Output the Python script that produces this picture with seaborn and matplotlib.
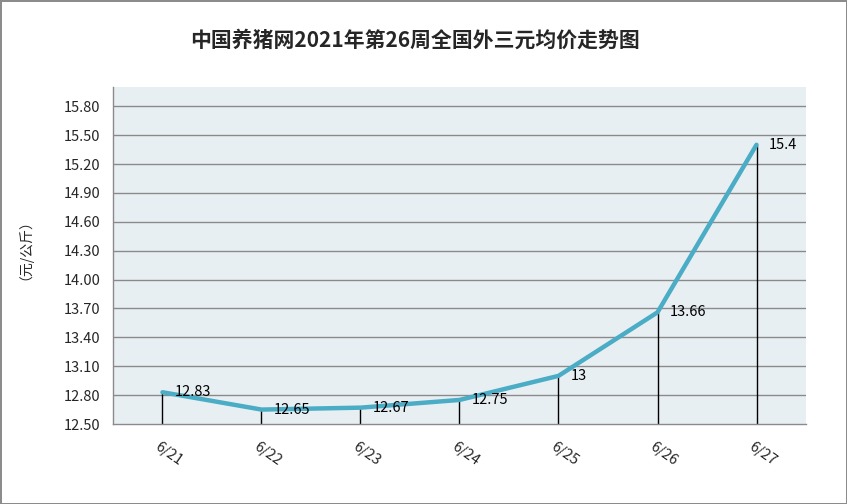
import numpy as np
import pandas as pd
import matplotlib
matplotlib.use("Agg")
import matplotlib.pyplot as plt
import seaborn as sns

# Data
dates = ["6/21", "6/22", "6/23", "6/24", "6/25", "6/26", "6/27"]
prices = [12.83, 12.65, 12.67, 12.75, 13.0, 13.66, 15.4]
price_labels = ["12.83", "12.65", "12.67", "12.75", "13", "13.66", "15.4"]
yticks = [12.5, 12.8, 13.1, 13.4, 13.7, 14.0, 14.3, 14.6, 14.9, 15.2, 15.5, 15.8]

sns.set_style("white")
plt.rcParams['font.family'] = ['Noto Sans CJK SC', 'DejaVu Sans']

df = pd.DataFrame({"date": dates, "price": prices})
df["pos"] = np.arange(len(df))

fig = plt.figure(figsize=(8.47, 5.04), dpi=100)
fig.patch.set_edgecolor("#8c8c8c")
fig.patch.set_linewidth(2)
ax = fig.add_axes([0.1334, 0.1587, 0.8182, 0.6687])
ax.set_facecolor("#e8eff3")

# grid lines
for y in yticks[1:]:
    ax.axhline(y, color="#8a8a8a", lw=1, zorder=1)

# drop lines
ax.vlines(df["pos"], 12.5, df["price"], color="black", lw=1, zorder=2)

sns.lineplot(data=df, x="pos", y="price", ax=ax, color="#4bacc6", lw=3.2,
             zorder=3, solid_capstyle="round")

for x, y, t in zip(df["pos"], df["price"], price_labels):
    ax.annotate(t, (x, y), xytext=(9, 0), textcoords="offset points",
                ha="left", va="center", fontsize=10.5, color="black", zorder=4)

ax.set_xlim(-0.5, 6.5)
ax.set_ylim(12.5, 16.0)
ax.set_yticks(yticks)
ax.set_yticklabels([f"{v:.2f}" for v in yticks], fontsize=10.5)
ax.set_xticks(df["pos"] - 0.02)
ax.set_xticklabels(dates, fontsize=10.5, rotation=-35, ha="left", va="top",
                   rotation_mode="anchor")
ax.set_xticks(np.arange(-0.5, 7, 1), minor=True)
ax.tick_params(axis="x", which="major", length=0, pad=11)
ax.tick_params(axis="x", which="minor", length=5, direction="in", color="#8a8a8a", width=1)
ax.tick_params(axis="y", length=0, pad=9)
ax.set_xlabel("")
ax.set_ylabel("（元/公斤）", fontsize=10)
ax.yaxis.set_label_coords(-0.127, 0.537)

for s in ["top", "right"]:
    ax.spines[s].set_visible(False)
for s in ["left", "bottom"]:
    ax.spines[s].set_color("#8a8a8a")
    ax.spines[s].set_linewidth(1)

fig.text(0.49, 0.921, "中国养猪网2021年第26周全国外三元均价走势图",
         ha="center", va="center", fontsize=15, fontweight="bold")

fig.savefig("out.png", dpi=100, edgecolor=fig.get_edgecolor())
